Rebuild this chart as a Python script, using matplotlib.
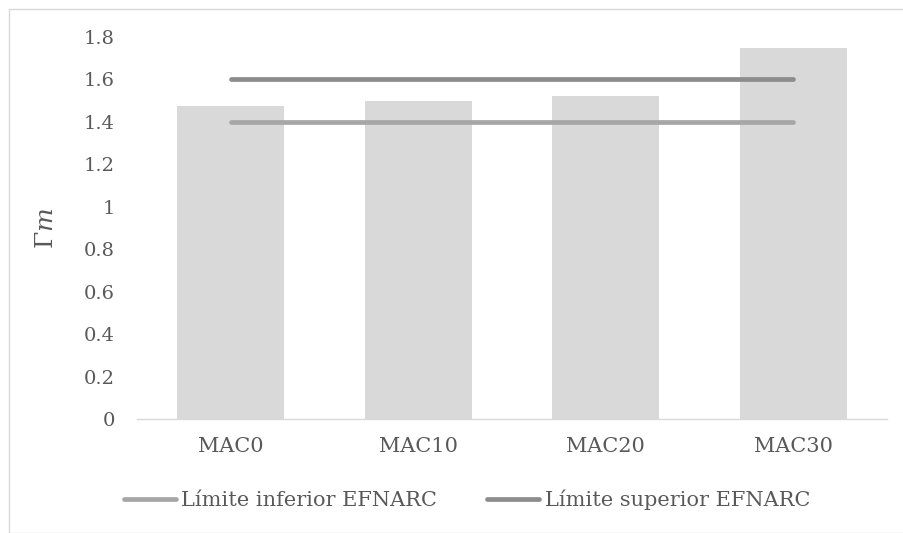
import numpy as np
import matplotlib
matplotlib.use("Agg")
import matplotlib.pyplot as plt
from matplotlib.patches import Rectangle

# Chart data
categories = ["MAC0", "MAC10", "MAC20", "MAC30"]
gamma_m = [1.473, 1.498, 1.522, 1.747]
lim_inferior = [1.4, 1.4, 1.4, 1.4]
lim_superior = [1.6, 1.6, 1.6, 1.6]
y_ticks = [0, 0.2, 0.4, 0.6, 0.8, 1, 1.2, 1.4, 1.6, 1.8]
y_tick_labels = ["0", "0.2", "0.4", "0.6", "0.8", "1", "1.2", "1.4", "1.6", "1.8"]

plt.rcParams["font.family"] = ["DejaVu Serif"]
plt.rcParams["mathtext.fontset"] = "dejavuserif"
text_color = "#595959"

fig = plt.figure(figsize=(9.04, 5.33), dpi=100)
# axes: x 137..887 px, y 37..419 px
ax = fig.add_axes([137 / 904, 1 - 419 / 533, 750 / 904, 382 / 533])

x = np.arange(len(categories))

# Bars
ax.bar(x, gamma_m, width=0.57, color="#d9d9d9", zorder=2)

# Limit lines
ax.plot(x, lim_inferior, color="#a6a6a6", lw=3.4, solid_capstyle="round",
        label="Límite inferior EFNARC", zorder=3)
ax.plot(x, lim_superior, color="#8c8c8c", lw=3.4, solid_capstyle="round",
        label="Límite superior EFNARC", zorder=3)

ax.set_xlim(-0.5, len(categories) - 0.5)
ax.set_ylim(0, 1.8)
ax.set_yticks(y_ticks)
ax.set_yticklabels(y_tick_labels)
ax.set_xticks(x)
ax.set_xticklabels(categories)

ax.tick_params(axis="y", length=0, labelsize=14, colors=text_color, pad=16)
ax.tick_params(axis="x", length=0, labelsize=15, colors=text_color, pad=13)

for side in ["top", "right", "left"]:
    ax.spines[side].set_visible(False)
ax.spines["bottom"].set_color("#d9d9d9")
ax.spines["bottom"].set_linewidth(1.0)

ax.set_ylabel(r"$\Gamma m$", fontsize=18, color=text_color)
ax.yaxis.set_label_coords((58 - 137) / 750, 0.5)

leg = fig.legend(loc="center", bbox_to_anchor=(467 / 904, 1 - 500 / 533), ncol=2,
                 frameon=False, fontsize=15, handlelength=2.5,
                 handletextpad=0.25, columnspacing=2.4)
for t in leg.get_texts():
    t.set_color(text_color)

# Outer chart border
fig.patches.append(Rectangle((8.5 / 904, 0.0), 0.995, 1 - 8.5 / 533,
                             transform=fig.transFigure, fill=False,
                             edgecolor="#d9d9d9", lw=1.0))

fig.savefig("out.png", dpi=100)
